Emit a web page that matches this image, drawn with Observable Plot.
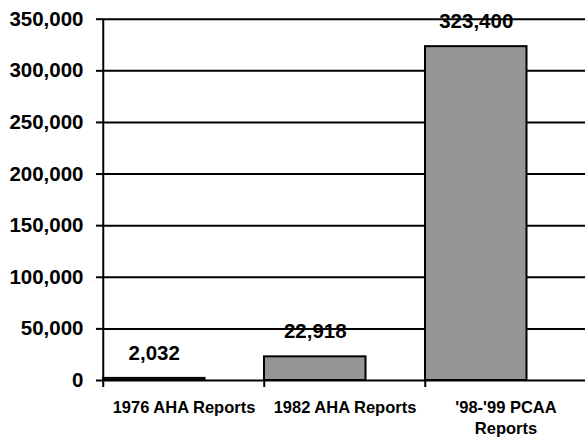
<!DOCTYPE html>
<html><head><meta charset="utf-8">
<script src="https://cdn.jsdelivr.net/npm/d3@7"></script>
<script src="https://cdn.jsdelivr.net/npm/@observablehq/plot@0.6"></script>
<style>body{margin:0;background:#fff} svg{display:block}</style>
</head><body><div id="chart"></div>
<script>
const categories = ["1976 AHA Reports", "1982 AHA Reports", "'98-'99 PCAA Reports"];
const axisLabels = ["1976 AHA Reports", "1982 AHA Reports", "'98-'99 PCAA\nReports"];
const values = [2032, 22918, 323400];
const valueLabels = ["2,032", "22,918", "323,400"];
const yTicks = [0, 50000, 100000, 150000, 200000, 250000, 300000, 350000];

const data = categories.map((c, i) => ({category: c, value: values[i], label: valueLabels[i]}));
const font = "'Liberation Sans', Arial, sans-serif";
const bw = (586.5 - 102) / 3;
const barW = 102;
const fmt = d3.format(",");

const chart = Plot.plot({
  width: 585, height: 439,
  marginLeft: 102, marginRight: 0, marginTop: 19, marginBottom: 59,
  style: {fontFamily: font, fontWeight: "bold", background: "white", overflow: "visible", color: "black"},
  x: {domain: categories, range: [102, 586.5], padding: 0},
  y: {domain: [0, 350000], range: [380, 18.7]},
  marks: [
    Plot.ruleY(yTicks, {stroke: "black", strokeWidth: 2}),
    Plot.ruleY(yTicks, {x1: categories[0], x2: categories[0], dx: -bw / 2, insetLeft: -6, stroke: "black", strokeWidth: 2}),
    Plot.barY(data, {x: "category", y: "value", fill: "#969696", stroke: "black", strokeWidth: 2, insetRight: bw - barW}),
    Plot.ruleX(categories, {x: d => d, dx: -bw / 2, y1: -6781, y2: 0, stroke: "black", strokeWidth: 2}),
    Plot.ruleX([categories[0]], {x: d => d, dx: -bw / 2, y1: 0, y2: 350000, stroke: "black", strokeWidth: 2}),
    Plot.axisY({ticks: yTicks, tickFormat: fmt, tickSize: 6, tickPadding: 13, fontSize: 20.5, stroke: "black", strokeWidth: 2, label: null}),
    Plot.axisX({tickSize: 0, tickPadding: 18, fontSize: 16.5, lineHeight: 1.27, label: null, tickFormat: d => axisLabels[categories.indexOf(d)]}),
    Plot.text(data, {x: "category", y: "value", text: "label", dx: barW / 2 - bw / 2, dy: -25, fontSize: 20.5, fontWeight: "bold", fill: "black", lineAnchor: "middle"})
  ]
});
document.getElementById("chart").appendChild(chart);
</script>
</body></html>
